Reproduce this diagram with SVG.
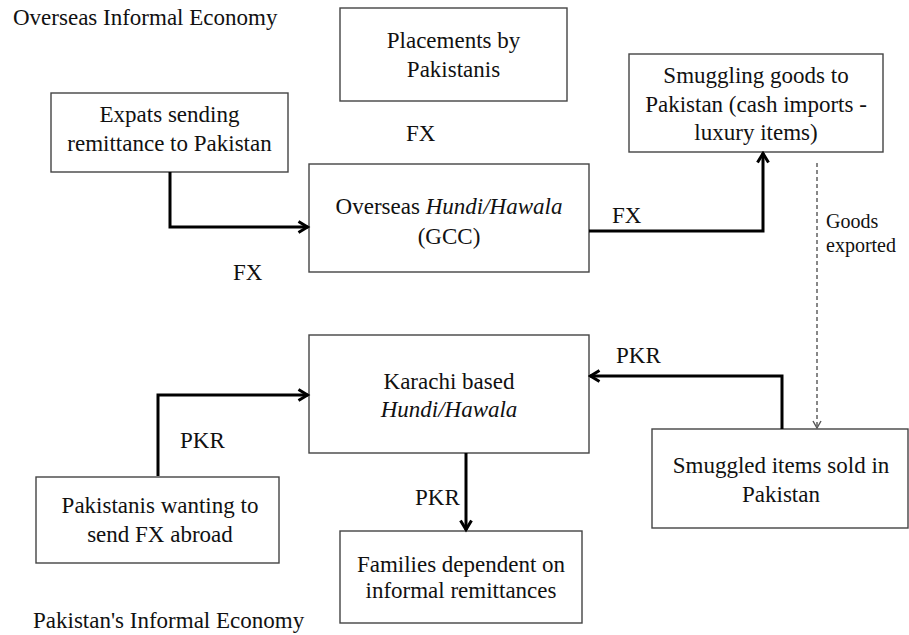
<svg xmlns="http://www.w3.org/2000/svg" width="909" height="635" viewBox="0 0 909 635" font-family="Liberation Serif, serif">
<style>
text{font-size:23px;fill:#111;}
.c{text-anchor:middle;}
.box{fill:#fff;stroke:#444;stroke-width:1.4;}
.arr{fill:none;stroke:#000;stroke-width:3;}
.dash{fill:none;stroke:#555;stroke-width:1.4;stroke-dasharray:4 3;}
.sm{font-size:20px;}
</style>
<defs>
<marker id="ah" markerUnits="userSpaceOnUse" viewBox="0 0 14 14" markerWidth="14" markerHeight="14" refX="11.5" refY="7" orient="auto">
<path d="M2,1.5 L11,7 L2,12.5" fill="none" stroke="#000" stroke-width="3"/>
</marker>
<marker id="ahd" markerUnits="userSpaceOnUse" viewBox="0 0 10 10" markerWidth="10" markerHeight="10" refX="9" refY="5" orient="auto">
<path d="M2,1 L9,5 L2,9" fill="none" stroke="#555" stroke-width="1.4"/>
</marker>
</defs>
<rect width="909" height="635" fill="#fff"/>
<text x="13" y="25">Overseas Informal Economy</text>
<text x="33" y="628">Pakistan's Informal Economy</text>
<g id="placements">
<rect class="box" x="340" y="8" width="227" height="93"/>
<text class="c" x="453.5" y="48">Placements by</text>
<text class="c" x="453.5" y="77">Pakistanis</text>
</g>
<g id="expats">
<rect class="box" x="51" y="93" width="237" height="79"/>
<text class="c" x="169.5" y="122">Expats sending</text>
<text class="c" x="169.5" y="151">remittance to Pakistan</text>
</g>
<g id="overseas">
<rect class="box" x="309" y="164" width="280" height="108"/>
<text class="c" x="449" y="214">Overseas <tspan font-style="italic">Hundi/Hawala</tspan></text>
<text class="c" x="449" y="244">(GCC)</text>
</g>
<g id="smuggling">
<rect class="box" x="629" y="54" width="254" height="98"/>
<text class="c" x="756" y="83">Smuggling goods to</text>
<text class="c" x="756" y="112">Pakistan (cash imports -</text>
<text class="c" x="756" y="140">luxury items)</text>
</g>
<g id="karachi">
<rect class="box" x="309" y="335" width="280" height="118"/>
<text class="c" x="449" y="389">Karachi based</text>
<text class="c" x="449" y="417" font-style="italic">Hundi/Hawala</text>
</g>
<g id="pakistanis">
<rect class="box" x="36" y="477" width="243" height="86"/>
<text class="c" x="160" y="513">Pakistanis wanting to</text>
<text class="c" x="160" y="542">send FX abroad</text>
</g>
<g id="families">
<rect class="box" x="340" y="531" width="242" height="92"/>
<text class="c" x="461" y="572">Families dependent on</text>
<text class="c" x="461" y="598">informal remittances</text>
</g>
<g id="smuggled">
<rect class="box" x="652" y="429" width="256" height="99"/>
<text class="c" x="781" y="473">Smuggled items sold in</text>
<text class="c" x="781" y="502">Pakistan</text>
</g>
<g id="connectors">
<polyline class="arr" points="170,172 170,227 308,227" marker-end="url(#ah)"/>
<polyline class="arr" points="589,231 763,231 763,153" marker-end="url(#ah)"/>
<polyline class="arr" points="158,476 158,395 308,395" marker-end="url(#ah)"/>
<polyline class="arr" points="782,429 782,376 590,376" marker-end="url(#ah)"/>
<line class="arr" x1="466" y1="453" x2="466" y2="530" marker-end="url(#ah)"/>
<line class="dash" x1="817" y1="163" x2="817" y2="428" marker-end="url(#ahd)"/>
</g>
<g id="labels">
<text x="406" y="141">FX</text>
<text x="233" y="280">FX</text>
<text x="612" y="223">FX</text>
<text x="180" y="448">PKR</text>
<text x="616" y="363">PKR</text>
<text x="415" y="505">PKR</text>
<text class="sm" x="826" y="228">Goods</text>
<text class="sm" x="826" y="252">exported</text>
</g>
</svg>
